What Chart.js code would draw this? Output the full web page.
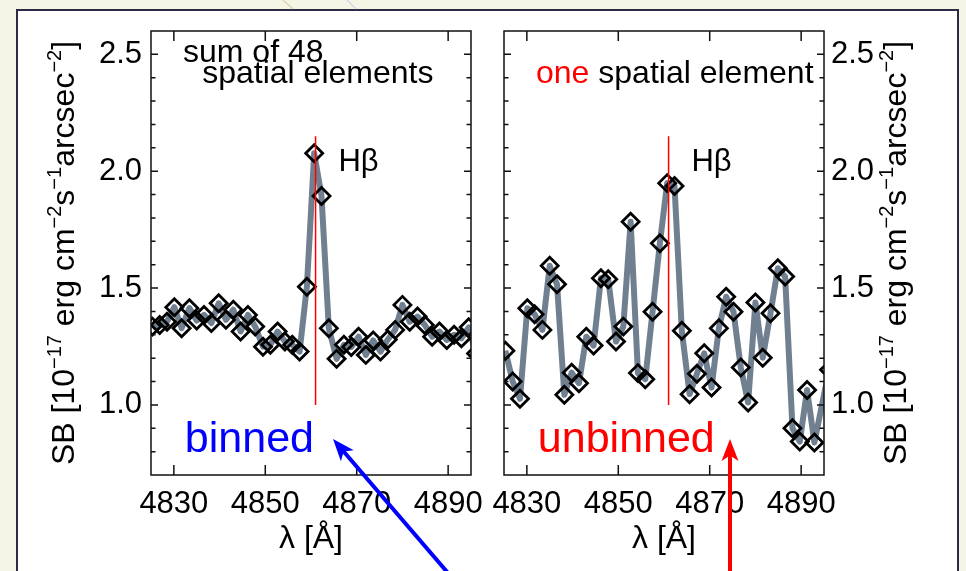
<!DOCTYPE html>
<html lang="en">
<head>
<meta charset="UTF-8">
<title>H-beta surface brightness: binned vs unbinned</title>
<script src="https://cdn.jsdelivr.net/npm/chart.js"></script>
<style>
  body { margin: 0; width: 966px; height: 571px; overflow: hidden; background: #f5f5e6; position: relative; }
  #panel { position: absolute; left: 16px; top: 9px; width: 939px; height: 600px; background: #fff;
           border: 2px solid #2b2b46; border-bottom: none; }
  canvas { position: absolute; left: 0; top: 0; }
</style>
</head>
<body>
<div id="panel"></div>
<canvas id="binnedChart" width="966" height="571"></canvas>
<canvas id="unbinnedChart" width="966" height="571"></canvas>
<script>
// wavelength grid [Angstrom], shared by both spectra
const wavelength = [
  4825.3, 4826.9, 4828.5, 4830.1, 4831.7, 4833.4, 4835.0, 4836.6, 4838.2, 4839.8,
  4841.4, 4843.0, 4844.6, 4846.2, 4847.8, 4849.5, 4851.1, 4852.7, 4854.3, 4855.9,
  4857.5, 4859.1, 4860.7, 4862.3, 4863.9, 4865.6, 4867.2, 4868.8, 4870.4, 4872.0,
  4873.6, 4875.2, 4876.8, 4878.4, 4880.0, 4881.6, 4883.3, 4884.9, 4886.5, 4888.1,
  4889.7, 4891.3, 4892.9, 4894.5, 4896.1
];
// sum of 48 spatial elements
const binnedSB = [
  1.335, 1.342, 1.356, 1.418, 1.328, 1.414, 1.361, 1.385, 1.350, 1.435,
  1.364, 1.407, 1.314, 1.385, 1.335, 1.249, 1.257, 1.314, 1.271, 1.257,
  1.228, 1.506, 2.077, 1.894, 1.328, 1.197, 1.257, 1.248, 1.292, 1.214,
  1.276, 1.228, 1.280, 1.321, 1.428, 1.356, 1.378, 1.342, 1.292, 1.314,
  1.278, 1.300, 1.285, 1.332, 1.220
];
// one spatial element
const unbinnedSB = [
  1.232, 1.100, 1.026, 1.414, 1.388, 1.321, 1.595, 1.516, 1.043, 1.138,
  1.093, 1.292, 1.254, 1.542, 1.538, 1.271, 1.335, 1.784, 1.136, 1.110,
  1.399, 1.692, 1.949, 1.937, 1.317, 1.046, 1.133, 1.221, 1.074, 1.328,
  1.463, 1.399, 1.160, 1.010, 1.438, 1.202, 1.392, 1.585, 1.549, 0.900,
  0.843, 1.064, 0.839, null, 1.150
];
const xTickValues = [4830, 4850, 4870, 4890];
const yTickValues = [1.0, 1.5, 2.0, 2.5];
const yMinorValues = [0.8, 0.9, 1.0, 1.1, 1.2, 1.3, 1.4, 1.5, 1.6, 1.7, 1.8, 1.9, 2.0, 2.1, 2.2, 2.3, 2.4, 2.5];
const hBeta = 4861;
const yTitle = [['SB [10', false], ['\u221217', true], [' erg cm', false], ['\u22122', true], ['s', false],
                ['\u22121', true], ['arcsec', false], ['\u22122', true], [']', false]];

const FAMILY = "'Liberation Sans', Arial, sans-serif";
Chart.defaults.font.family = FAMILY;
Chart.defaults.color = '#000';

function drawYTitle(ctx, bx, cy) {
  const big = 32, small = 20;
  let total = 0;
  yTitle.forEach(([t, sup]) => {
    ctx.font = (sup ? small : big) + 'px ' + FAMILY;
    total += ctx.measureText(t).width;
  });
  ctx.save();
  ctx.translate(bx, cy);
  ctx.rotate(-Math.PI / 2);
  ctx.fillStyle = '#000';
  ctx.textAlign = 'left';
  ctx.textBaseline = 'alphabetic';
  let pos = -total / 2;
  yTitle.forEach(([t, sup]) => {
    ctx.font = (sup ? small : big) + 'px ' + FAMILY;
    ctx.fillText(t, pos, sup ? -13 : 0);
    pos += ctx.measureText(t).width;
  });
  ctx.restore();
}

const panelPlugin = {
  id: 'panel',
  afterDatasetsDraw(chart, args, opts) {
    const {ctx, chartArea: a, scales: {x, y}} = chart;
    ctx.save();
    // H-beta marker
    const hx = x.getPixelForValue(hBeta);
    ctx.strokeStyle = '#ff0000';
    ctx.lineWidth = 1.5;
    ctx.beginPath();
    ctx.moveTo(hx, y.getPixelForValue(1.0));
    ctx.lineTo(hx, y.getPixelForValue(2.15));
    ctx.stroke();

    // frame with inward ticks
    ctx.strokeStyle = '#111';
    ctx.lineWidth = 1.5;
    ctx.strokeRect(a.left, a.top, a.right - a.left, a.bottom - a.top);
    ctx.beginPath();
    xTickValues.forEach(v => {
      const px = x.getPixelForValue(v);
      ctx.moveTo(px, a.bottom); ctx.lineTo(px, a.bottom - 10);
      ctx.moveTo(px, a.top); ctx.lineTo(px, a.top + 10);
    });
    yMinorValues.forEach(v => {
      const py = y.getPixelForValue(v);
      const len = yTickValues.includes(v) ? 7 : 4.5;
      ctx.moveTo(a.left, py); ctx.lineTo(a.left + len, py);
      ctx.moveTo(a.right, py); ctx.lineTo(a.right - len, py);
    });
    ctx.stroke();

    // text annotations
    ctx.textAlign = 'left';
    ctx.textBaseline = 'alphabetic';
    opts.labels.forEach(lb => {
      ctx.font = lb.size + 'px ' + FAMILY;
      let px = x.getPixelForValue(lb.at[0]);
      const py = y.getPixelForValue(lb.at[1]);
      lb.parts.forEach(([t, c]) => {
        ctx.fillStyle = c;
        ctx.fillText(t, px, py);
        px += ctx.measureText(t).width;
      });
    });
    ctx.restore();

    const cy = (a.top + a.bottom) / 2;
    drawYTitle(ctx, opts.side === 'left' ? a.left - 77 : a.right + 82, cy);
  },
  beforeDraw(chart, args, opts) {
    if (!opts.decor) return;
    const ctx = chart.ctx;
    ctx.save();
    ctx.lineWidth = 1.2;
    ctx.strokeStyle = '#dccfae';
    ctx.beginPath(); ctx.moveTo(283, 0); ctx.lineTo(293, 9); ctx.stroke();
    ctx.strokeStyle = '#cdd3e6';
    ctx.beginPath(); ctx.moveTo(347, 0); ctx.lineTo(356, 9); ctx.stroke();
    ctx.restore();
  }
};

function arrow(ctx, x0, y0, x1, y1, color) {
  const ang = Math.atan2(y1 - y0, x1 - x0);
  const c = Math.cos(ang), s = Math.sin(ang);
  const len = 22, half = 8.5;
  ctx.save();
  ctx.strokeStyle = color;
  ctx.fillStyle = color;
  ctx.lineWidth = 4;
  ctx.beginPath();
  ctx.moveTo(x0, y0);
  ctx.lineTo(x1 - c * len * 0.7, y1 - s * len * 0.7);
  ctx.stroke();
  ctx.beginPath();
  ctx.moveTo(x1, y1);
  ctx.lineTo(x1 - c * len - s * half, y1 - s * len + c * half);
  ctx.lineTo(x1 - c * len * 0.75, y1 - s * len * 0.75);
  ctx.lineTo(x1 - c * len + s * half, y1 - s * len - c * half);
  ctx.closePath();
  ctx.fill();
  ctx.restore();
}

const arrowPlugin = {
  id: 'arrows',
  afterDraw(chart) {
    arrow(chart.ctx, 454, 580, 333, 439, '#0000ff');
    arrow(chart.ctx, 730, 580, 730, 439, '#ff0000');
  }
};

function makeChart(id, values, side, labels, extraPlugins) {
  return new Chart(document.getElementById(id), {
    type: 'line',
    data: {
      datasets: [{
        data: wavelength.map((w, i) => ({x: w, y: values[i]})),
        borderColor: '#708090',
        borderWidth: 6,
        borderJoinStyle: 'round',
        pointStyle: 'rectRot',
        pointRadius: 8.5,
        pointBorderWidth: 2.8,
        pointBorderColor: '#000',
        pointBackgroundColor: 'rgba(0,0,0,0)',
        spanGaps: true,
        tension: 0,
        clip: 0
      }]
    },
    options: {
      responsive: false,
      animation: false,
      events: [],
      layout: {
        padding: side === 'left'
          ? {left: 0, top: 31, right: 495, bottom: 0}
          : {left: 504, top: 31, right: 0, bottom: 0}
      },
      scales: {
        x: {
          type: 'linear',
          min: 4825,
          max: 4895,
          afterBuildTicks: s => { s.ticks = xTickValues.map(v => ({value: v})); },
          afterFit: s => { s.height = 96; },
          grid: {display: false, drawTicks: false},
          border: {display: false},
          ticks: {font: {size: 31}, padding: 11, maxRotation: 0, autoSkip: false, callback: v => String(v)},
          title: {display: true, text: 'λ [Å]', font: {size: 32}, padding: {top: 0, bottom: 13}}
        },
        y: {
          type: 'linear',
          position: side,
          min: 0.7,
          max: 2.6,
          afterBuildTicks: s => { s.ticks = yTickValues.map(v => ({value: v})); },
          afterFit: s => { s.width = side === 'left' ? 151 : 142; },
          grid: {display: false, drawTicks: false},
          border: {display: false},
          ticks: {font: {size: 31}, padding: side === 'left' ? 9 : 7, callback: v => v.toFixed(1)}
        }
      },
      plugins: {
        legend: {display: false},
        tooltip: {enabled: false},
        panel: {side: side, labels: labels, decor: side === 'left'}
      }
    },
    plugins: [panelPlugin].concat(extraPlugins)
  });
}

makeChart('binnedChart', binnedSB, 'left', [
  {at: [4832.0, 2.466], size: 32, parts: [['sum of 48', '#000']]},
  {at: [4836.2, 2.376], size: 32, parts: [['spatial elements', '#000']]},
  {at: [4866.0, 2.0], size: 31, parts: [['Hβ', '#000']]},
  {at: [4832.4, 0.799], size: 43, parts: [['binned', '#0000ff']]}
], []);

makeChart('unbinnedChart', unbinnedSB, 'right', [
  {at: [4832.0, 2.376], size: 32, parts: [['one', '#ff0000'], [' spatial element', '#000']]},
  {at: [4866.0, 2.0], size: 31, parts: [['Hβ', '#000']]},
  {at: [4832.4, 0.799], size: 43, parts: [['unbinned', '#ff0000']]}
], [arrowPlugin]);
</script>
</body>
</html>
